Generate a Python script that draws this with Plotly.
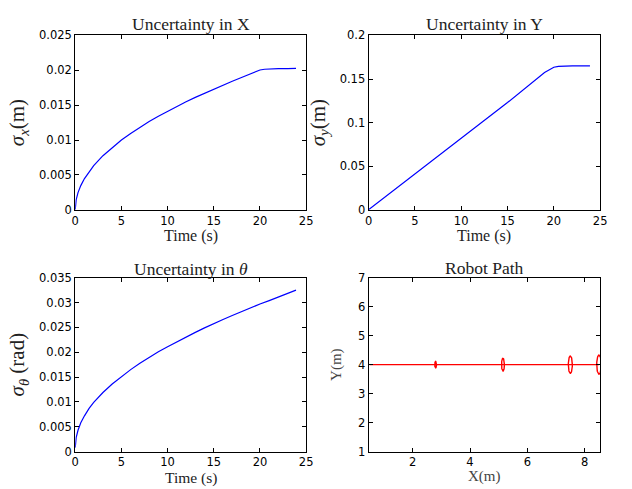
import numpy as np
import plotly.graph_objects as go

# ---- data ----
t_x = [0, 0.1, 0.3, 0.6, 1, 1.5, 2, 3, 4, 5, 6, 7, 8, 9, 10, 11, 12, 13, 14, 15,
       16, 17, 18, 19, 19.5, 20, 20.5, 21, 22, 23, 23.9]
sigma_x = [0, 0.00141, 0.00245, 0.00346, 0.00447, 0.00548, 0.00632, 0.00775, 0.00894,
           0.0100, 0.01095, 0.01183, 0.01265, 0.01342, 0.01414, 0.01483, 0.01549,
           0.01612, 0.01673, 0.01732, 0.01789, 0.01844, 0.01897, 0.01949, 0.0198,
           0.02005, 0.02015, 0.0202, 0.02023, 0.02025, 0.02027]

t_y = [0, 5, 10, 15, 19, 19.5, 20, 20.5, 21, 22, 23, 23.9]
sigma_y = [0, 0.041, 0.082, 0.123, 0.1575, 0.161, 0.1635, 0.1645, 0.1648, 0.165, 0.165, 0.165]

t_th = [0, 0.1, 0.3, 0.6, 1, 1.5, 2, 3, 4, 5, 6, 7, 8, 9, 10, 11, 12, 13, 14, 15,
        16, 17, 18, 19, 20, 21, 22, 23, 23.9]
sigma_th = [0.0008, 0.0028, 0.0043, 0.0058, 0.0072, 0.0087, 0.0099, 0.0119, 0.0136,
            0.0151, 0.0165, 0.0178, 0.0190, 0.0201, 0.0211, 0.0221, 0.0231, 0.0240,
            0.0249, 0.0258, 0.0266, 0.0274, 0.0282, 0.0289, 0.0297, 0.0304, 0.0311,
            0.0318, 0.0325]

path_x = [0.5, 8.5]
path_y = [4, 4]
ell_cx = [2.8, 5.15, 7.5, 8.5]
ell_cy = [4, 4, 4, 4]
ell_rx = [0.03, 0.05, 0.07, 0.08]
ell_ry = [0.11, 0.22, 0.30, 0.33]

time_ticks = [0, 5, 10, 15, 20, 25]
x_ticks = [0, 0.005, 0.01, 0.015, 0.02, 0.025]
x_ticktext = ["0", "0.005", "0.01", "0.015", "0.02", "0.025"]
y_ticks = [0, 0.05, 0.1, 0.15, 0.2]
y_ticktext = ["0", "0.05", "0.1", "0.15", "0.2"]
th_ticks = [0, 0.005, 0.01, 0.015, 0.02, 0.025, 0.03, 0.035]
th_ticktext = ["0", "0.005", "0.01", "0.015", "0.02", "0.025", "0.03", "0.035"]
path_xticks = [2, 4, 6, 8]
path_yticks = [1, 2, 3, 4, 5, 6, 7]

W, H = 632, 489
BLUE = "#0000ff"
RED = "#ff0000"
SERIF = "Liberation Serif, Times New Roman, serif"
SANS = "DejaVu Sans, sans-serif"

fig = go.Figure()
fig.add_trace(go.Scatter(x=t_x, y=sigma_x, mode="lines", line=dict(color=BLUE, width=1.2),
                         xaxis="x", yaxis="y", showlegend=False))
fig.add_trace(go.Scatter(x=t_y, y=sigma_y, mode="lines", line=dict(color=BLUE, width=1.2),
                         xaxis="x2", yaxis="y2", showlegend=False))
fig.add_trace(go.Scatter(x=t_th, y=sigma_th, mode="lines", line=dict(color=BLUE, width=1.2),
                         xaxis="x3", yaxis="y3", showlegend=False))
fig.add_trace(go.Scatter(x=path_x, y=path_y, mode="lines", line=dict(color=RED, width=1.2),
                         xaxis="x4", yaxis="y4", showlegend=False))
ang = np.linspace(0, 2 * np.pi, 60)
for cx, cy, rx, ry in zip(ell_cx, ell_cy, ell_rx, ell_ry):
    fig.add_trace(go.Scatter(x=cx + rx * np.cos(ang), y=cy + ry * np.sin(ang), mode="lines",
                             line=dict(color=RED, width=1.4), xaxis="x4", yaxis="y4",
                             showlegend=False))

def px_dom(a, b, total):
    return [a / total, b / total]

def py_dom(top, bottom):
    return [1 - bottom / H, 1 - top / H]

colL = px_dom(72.5, 307.5, W)
colR = px_dom(371, 606.7, W)
rowT = py_dom(29.3, 208.7)
rowB = py_dom(278.7, 457.7)

base = dict(showline=True, linecolor="black", linewidth=1, mirror="ticks",
            ticks="inside", ticklen=4, tickcolor="black", showgrid=False, zeroline=False,
            tickfont=dict(family=SANS, size=11.5, color="black"))

def ax(**kw):
    d = dict(base)
    d.update(kw)
    return d

fig.update_layout(
    width=W, height=H, margin=dict(l=0, r=0, t=0, b=0),
    paper_bgcolor="white", plot_bgcolor="white",
    xaxis=ax(domain=colL, anchor="y", range=[0, 25], tickvals=time_ticks, ticklabelstandoff=0),
    yaxis=ax(domain=rowT, anchor="x", range=[0, 0.025], tickvals=x_ticks, ticktext=x_ticktext,
             title=dict(text="<i>σ</i><sub><i>x</i></sub>(m)",
                        font=dict(family=SERIF, size=21, color="#222"), standoff=8)),
    xaxis2=ax(domain=colR, anchor="y2", range=[0, 25], tickvals=time_ticks, ticklabelstandoff=0),
    yaxis2=ax(domain=rowT, anchor="x2", range=[0, 0.2], tickvals=y_ticks, ticktext=y_ticktext,
              title=dict(text="<i>σ</i><sub><i>y</i></sub>(m)",
                         font=dict(family=SERIF, size=21, color="#222"), standoff=8)),
    xaxis3=ax(domain=colL, anchor="y3", range=[0, 25], tickvals=time_ticks, ticklabelstandoff=0),
    yaxis3=ax(domain=rowB, anchor="x3", range=[0, 0.035], tickvals=th_ticks, ticktext=th_ticktext,
              title=dict(text="<i>σ</i><sub><i>θ</i></sub> (rad)",
                         font=dict(family=SERIF, size=21, color="#222"), standoff=8)),
    xaxis4=ax(domain=colR, anchor="y4", range=[0.46, 8.54], tickvals=path_xticks, ticklabelstandoff=0),
    yaxis4=ax(domain=rowB, anchor="x4", range=[1, 7], tickvals=path_yticks,
              title=dict(text="Y(m)", font=dict(family=SERIF, size=15, color="#444"), standoff=12)),
)

labels = [("Uncertainty in X", (colL[0] + colL[1]) / 2, 18, 17.5, "#222"),
          ("Uncertainty in Y", (colR[0] + colR[1]) / 2, 18, 17.5, "#222"),
          ("Uncertainty in <i>θ</i>", (colL[0] + colL[1]) / 2, 270, 17.5, "#222"),
          ("Robot Path", (colR[0] + colR[1]) / 2, 269, 17.5, "#222"),
          ("Time (s)", (colL[0] + colL[1]) / 2, 235.5, 16, "#222"),
          ("Time (s)", (colR[0] + colR[1]) / 2, 235.5, 16, "#222"),
          ("Time (s)", (colL[0] + colL[1]) / 2, 484.5, 15.5, "#222"),
          ("X(m)", (colR[0] + colR[1]) / 2, 483, 15, "#444")]
for txt, xc, ypx, fs, col in labels:
    fig.add_annotation(text=txt, x=xc, y=1 - ypx / H, xref="paper", yref="paper",
                       xanchor="center", yanchor="middle", showarrow=False,
                       font=dict(family=SERIF, size=fs, color=col))

fig.write_html("out.html")
